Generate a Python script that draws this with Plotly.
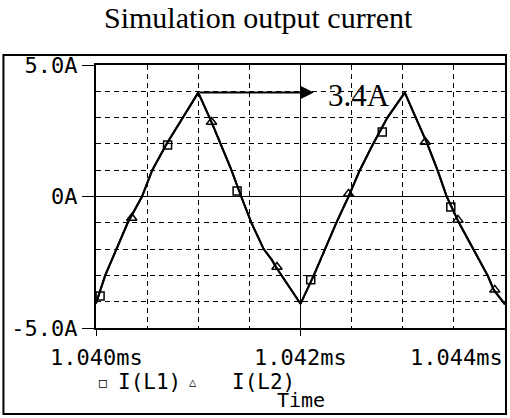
import plotly.graph_objects as go

# ---- data ----
time_ms = [1.04000, 1.04009, 1.04020, 1.04031, 1.04045, 1.04055, 1.04069, 1.04085, 1.04100,
           1.04113, 1.04132, 1.04142, 1.04152, 1.04164, 1.04172, 1.04176, 1.04200,
           1.04213, 1.04224, 1.04235, 1.04247, 1.04258, 1.04271, 1.04285, 1.04302,
           1.04313, 1.04324, 1.04334, 1.04343, 1.04355, 1.04369, 1.04383, 1.04389, 1.04400]
current_A = [-4.07, -3.0, -2.0, -1.0, 0.0, 1.0, 2.0, 3.0, 3.95,
             2.83, 1.05, 0.0, -1.0, -2.0, -2.41, -2.68, -4.08,
             -3.0, -2.0, -1.0, 0.0, 1.0, 2.0, 3.0, 3.95,
             3.0, 2.0, 1.0, 0.0, -1.0, -2.0, -3.0, -3.55, -4.1]

l1_marker_t = [1.04004, 1.04070, 1.04138, 1.04210, 1.04280, 1.04347]
l1_marker_v = [-3.78, 1.96, 0.21, -3.17, 2.45, -0.40]
l2_marker_t = [1.04035, 1.04113, 1.04177, 1.04247, 1.04322, 1.04354, 1.04390]
l2_marker_v = [-0.82, 2.83, -2.68, 0.1, 2.07, -0.89, -3.55]

x_ticks = [1.040, 1.042, 1.044]
x_tick_text = ["1.040ms", "1.042ms", "1.044ms"]
y_ticks = [-5, 0, 5]
y_tick_text = ["-5.0A", "0A", "5.0A"]

title_text = "Simulation output current"
annot_text = "3.4A"
series_names = ["I(L1)", "I(L2)"]
x_title = "Time"

# ---- layout geometry ----
W, H = 510, 418
L, R, T, B = 96, 3, 65, 90
PW, PH = W - L - R, H - T - B


def px(xp):
    return (xp - L) / PW


def py(yp):
    return (H - B - yp) / PH


MONO = "DejaVu Sans Mono"
SERIF = "Liberation Serif"

fig = go.Figure()
for name in series_names:
    fig.add_trace(go.Scatter(x=time_ms, y=current_A, mode="lines", name=name,
                             line=dict(color="black", width=2), showlegend=False,
                             hoverinfo="skip"))
fig.add_trace(go.Scatter(x=l1_marker_t, y=l1_marker_v, mode="markers", name=series_names[0],
                         marker=dict(symbol="square-open", size=8, color="black",
                                     line=dict(width=1.5, color="black")), showlegend=False))
fig.add_trace(go.Scatter(x=l2_marker_t, y=l2_marker_v, mode="markers", name=series_names[1],
                         marker=dict(symbol="triangle-up-open", size=9, color="black",
                                     line=dict(width=1.5, color="black")), showlegend=False))

fig.update_xaxes(range=[x_ticks[0], x_ticks[-1]], tickmode="array", tickvals=x_ticks,
                 showticklabels=False, ticks="outside", ticklen=6, tickcolor="black",
                 showgrid=True, gridcolor="black", gridwidth=1,
                 minor=dict(tickmode="linear", tick0=x_ticks[0], dtick=0.0005, showgrid=True,
                            gridcolor="black", gridwidth=1, griddash="5px,4px", ticks=""),
                 showline=True, linecolor="black", linewidth=2, mirror=True, zeroline=False)
fig.update_yaxes(range=[y_ticks[0], y_ticks[-1]], tickmode="array", tickvals=y_ticks,
                 ticktext=y_tick_text, ticks="outside", ticklen=12, tickcolor="black",
                 tickfont=dict(family=MONO, size=22, color="black"),
                 showgrid=True, gridcolor="black", gridwidth=1,
                 minor=dict(tickmode="linear", tick0=y_ticks[0], dtick=1, showgrid=True,
                            gridcolor="black", gridwidth=1, griddash="5px,4px", ticks=""),
                 showline=True, linecolor="black", linewidth=2, mirror=True, zeroline=False)

annotations = []
for i, (xv, txt) in enumerate(zip(x_ticks, x_tick_text)):
    annotations.append(dict(x=xv, y=py(357), xref="x", yref="paper", text=txt, showarrow=False,
                            xanchor="right" if i == len(x_ticks) - 1 else "center",
                            yanchor="middle", font=dict(family=MONO, size=22, color="black")))
# legend (as text)
annotations.append(dict(x=px(103), y=py(382), xref="paper", yref="paper", text="□",
                        showarrow=False, xanchor="center", yanchor="middle",
                        font=dict(family=MONO, size=13, color="black")))
annotations.append(dict(x=px(116), y=py(382), xref="paper", yref="paper", text=series_names[0],
                        showarrow=False, xanchor="left", yanchor="middle",
                        font=dict(family=MONO, size=21, color="black")))
annotations.append(dict(x=px(193), y=py(382), xref="paper", yref="paper", text="△",
                        showarrow=False, xanchor="center", yanchor="middle",
                        font=dict(family=MONO, size=12, color="black")))
annotations.append(dict(x=px(231), y=py(382), xref="paper", yref="paper", text=series_names[1],
                        showarrow=False, xanchor="left", yanchor="middle",
                        font=dict(family=MONO, size=21, color="black")))
annotations.append(dict(x=x_ticks[1], y=py(400), xref="x", yref="paper", text=x_title,
                        showarrow=False, xanchor="center", yanchor="middle",
                        font=dict(family=MONO, size=20, color="black")))
# title
annotations.append(dict(x=px(259), y=py(18), xref="paper", yref="paper", text=title_text,
                        showarrow=False, xanchor="center", yanchor="middle",
                        font=dict(family=SERIF, size=30, color="black")))
# arrow from first peak
peak_t, peak_v = time_ms[8], current_A[8]
annotations.append(dict(x=1.04213, y=peak_v, xref="x", yref="y", ax=peak_t, ay=peak_v,
                        axref="x", ayref="y", text="", showarrow=True, arrowhead=2,
                        arrowsize=1.3, arrowwidth=2, arrowcolor="black"))
annotations.append(dict(x=px(327), y=py(95), xref="paper", yref="paper", text=annot_text,
                        showarrow=False, xanchor="left", yanchor="middle",
                        font=dict(family=SERIF, size=31, color="black")))

shapes = [dict(type="rect", xref="paper", yref="paper", x0=px(3), x1=px(508), y0=py(414),
               y1=py(55), line=dict(color="black", width=2), layer="below")]

fig.update_layout(width=W, height=H, margin=dict(l=L, r=R, t=T, b=B),
                  paper_bgcolor="white", plot_bgcolor="white", showlegend=False,
                  annotations=annotations, shapes=shapes)

fig.write_html("out.html")
